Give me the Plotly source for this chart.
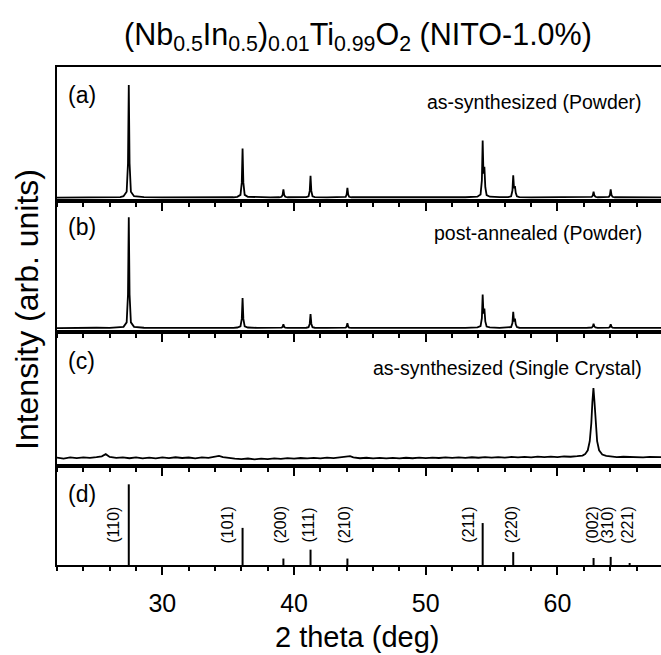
import plotly.graph_objects as go
from plotly.subplots import make_subplots

FONT = "Liberation Sans, Arial, sans-serif"

# ---- Powder patterns (a) as-synthesized and (b) post-annealed, shared 2-theta grid ----
two_theta_powder = [
    22.0, 23.0, 24.0, 25.0, 26.0, 26.8,
    27.05, 27.29, 27.39, 27.45, 27.51, 27.61, 27.85,
    28.6, 30.0, 31.5, 33.0, 34.5, 35.4,
    35.69, 35.93, 36.03, 36.09, 36.15, 36.25, 36.49,
    37.2, 38.2,
    38.87, 39.05, 39.13, 39.19, 39.25, 39.33, 39.51,
    40.2,
    40.93, 41.10, 41.19, 41.25, 41.31, 41.40, 41.57,
    42.5, 43.4,
    43.75, 43.92, 43.99, 44.05, 44.11, 44.18, 44.35,
    45.5, 47.0, 48.5, 50.0, 51.5, 53.0,
    53.92, 54.16, 54.26, 54.32, 54.38, 54.45, 54.52, 54.62, 54.86,
    55.6,
    56.26, 56.48, 56.58, 56.64, 56.70, 56.77, 56.83, 56.92, 57.10,
    58.0, 59.5, 61.0, 62.2,
    62.45, 62.60, 62.68, 62.74, 62.80, 62.88, 63.05,
    63.5,
    63.75, 63.90, 63.98, 64.04, 64.10, 64.18, 64.35,
    65.0, 66.0, 67.0, 67.86,
]

counts_a = [
    0.8, 1.0, 0.9, 1.1, 1.0, 1.3,
    2.0, 6.0, 31, 100, 31, 6.0, 2.0,
    1.2, 1.0, 0.9, 1.0, 1.0, 1.1,
    1.5, 3.2, 14, 44, 14, 3.2, 1.5,
    1.1, 1.0,
    1.1, 1.5, 3.1, 8.0, 3.1, 1.5, 1.1,
    1.0,
    1.2, 2.0, 6.7, 20, 6.7, 2.0, 1.2,
    1.0, 1.0,
    1.1, 1.5, 3.5, 9.5, 3.5, 1.5, 1.1,
    1.0, 0.9, 1.0, 1.0, 1.1, 1.1,
    1.6, 3.6, 16, 51, 22, 28, 10, 3.0, 1.6,
    1.2,
    1.2, 2.0, 7.0, 20.5, 9.0, 11, 5.0, 2.0, 1.2,
    1.0, 1.0, 1.0, 1.1,
    1.1, 1.5, 2.5, 6.0, 2.8, 1.5, 1.1,
    1.0,
    1.1, 1.5, 3.0, 8.0, 3.2, 1.5, 1.1,
    1.0, 0.9, 1.0, 1.0,
]

counts_b = [
    1.0, 1.3, 1.1, 1.4, 1.2, 1.5,
    2.2, 6.2, 31, 100, 31, 6.2, 2.2,
    1.4, 1.2, 1.1, 1.3, 1.2, 1.3,
    1.6, 2.6, 9.3, 28, 9.3, 2.6, 1.6,
    1.3, 1.2,
    1.3, 1.5, 2.2, 4.4, 2.2, 1.5, 1.3,
    1.2,
    1.4, 1.9, 5.0, 13.7, 5.0, 1.9, 1.4,
    1.2, 1.2,
    1.3, 1.5, 2.5, 5.4, 2.5, 1.5, 1.3,
    1.2, 1.1, 1.2, 1.2, 1.3, 1.3,
    1.7, 2.8, 10, 31, 14, 18.5, 7.0, 2.5, 1.7,
    1.3,
    1.4, 2.0, 5.5, 15.5, 7.0, 9.5, 4.5, 2.0, 1.4,
    1.2, 1.2, 1.2, 1.3,
    1.3, 1.6, 2.4, 5.0, 2.6, 1.6, 1.3,
    1.2,
    1.3, 1.5, 2.2, 4.4, 2.3, 1.5, 1.3,
    1.2, 1.1, 1.2, 1.2,
]

# ---- (c) as-synthesized single crystal ----
two_theta_c = [
    22.0, 22.5, 23.0, 23.5, 24.0, 24.5, 25.0, 25.4, 25.7, 26.0, 26.5, 27.0,
    27.5, 28.0, 28.5, 29.0, 29.5, 30.0, 30.5, 31.0, 31.5, 32.0, 32.5, 33.0,
    33.5, 34.0, 34.3, 34.6, 35.0, 35.5, 36.0, 36.5, 37.0, 37.5, 38.0, 38.5,
    39.0, 39.5, 40.0, 40.5, 41.0, 41.5, 42.0, 42.5, 43.0, 43.5, 44.0, 44.25,
    44.5, 45.0, 45.5, 46.0, 46.5, 47.0, 47.5, 48.0, 48.5, 49.0, 49.5, 50.0,
    50.5, 51.0, 51.5, 52.0, 52.5, 53.0, 53.5, 54.0, 54.5, 55.0, 55.5, 56.0,
    56.5, 57.0, 57.5, 58.0, 58.5, 59.0, 59.5, 60.0, 60.5, 61.0, 61.5, 61.9,
    62.1, 62.3, 62.45, 62.57, 62.65, 62.73, 62.81, 62.89, 63.01, 63.16, 63.4,
    63.7, 64.0, 64.5, 65.0, 65.5, 66.0, 66.5, 67.0, 67.5, 67.86,
]

counts_c = [
    0.5, -0.8, 0.9, -0.2, 1.0, 0.1, 1.2, 2.5, 5.5, 1.6, 0.2, 1.0,
    -0.3, 0.8, -0.6, 0.6, -0.4, 0.9, -0.2, 1.1, 0.0, 0.7, -0.5, 0.8,
    0.2, 1.5, 3.0, 1.2, 0.0, -0.9, -1.5, -0.7, -1.8, -0.9, -1.6, -0.6,
    -1.2, -0.3, -0.9, 0.0, -0.6, 0.3, -0.4, 0.5, -0.2, 0.6, 1.4, 2.8,
    0.9, -0.3, 0.4, -0.5, 0.3, -0.6, 0.2, -0.4, 0.4, -0.3, 0.5, -0.2,
    0.6, 0.0, 0.8, 0.2, 1.0, 0.3, 1.1, 0.4, 1.2, 0.5, 1.3, 0.6,
    1.5, 0.8, 1.6, 1.0, 1.9, 1.2, 2.0, 1.4, 2.2, 1.8, 2.6, 3.5,
    5.5, 11, 24, 50, 80, 100, 80, 50, 24, 11, 5.0,
    3.0, 2.0, 1.4, 1.8, 1.2, 1.6, 1.0, 1.5, 1.1, 1.3,
]

# ---- (d) rutile TiO2 reference reflections ----
ref_hkl = ["(110)", "(101)", "(200)", "(111)", "(210)", "(211)", "(220)", "(002)", "(310)", "(221)"]
ref_two_theta = [27.45, 36.09, 39.19, 41.25, 44.05, 54.32, 56.64, 62.74, 64.04, 65.48]
ref_intensity = [100, 46, 8, 19, 8, 52, 16, 8.7, 10, 2.5]

assert len(two_theta_powder) == len(counts_a) == len(counts_b)
assert len(two_theta_c) == len(counts_c)

# label offsets (px) so the tall sticks do not run through their labels
ref_label_shift = [-15, -15, -2, -2, -2, -14, -1, -1, -3, -2]

fig = make_subplots(rows=4, cols=1, shared_xaxes=True, vertical_spacing=0)

line_style = dict(color="black", width=1.8)
fig.add_trace(go.Scatter(x=two_theta_powder, y=counts_a, mode="lines", line=line_style), row=1, col=1)
fig.add_trace(go.Scatter(x=two_theta_powder, y=counts_b, mode="lines", line=line_style), row=2, col=1)
fig.add_trace(go.Scatter(x=two_theta_c, y=counts_c, mode="lines", line=line_style), row=3, col=1)

stick_x, stick_y = [], []
for pos, inten in zip(ref_two_theta, ref_intensity):
    stick_x += [pos, pos, None]
    stick_y += [0, inten, None]
fig.add_trace(go.Scatter(x=stick_x, y=stick_y, mode="lines",
                         line=dict(color="black", width=2)), row=4, col=1)

# panel layout (paper fractions)
domains = [[0.7309, 1.0], [0.4679, 0.7309], [0.1988, 0.4679], [0.0, 0.1988]]
yranges = [[-2.2, 115.9], [-2.4, 114.5], [-11.4, 180.0], [0.0, 122.7]]

for i in range(4):
    fig.update_yaxes(domain=domains[i], range=yranges[i], showline=True, linewidth=2,
                     linecolor="black", showticklabels=False, ticks="", showgrid=False,
                     zeroline=False, row=i + 1, col=1)
    fig.update_xaxes(range=[22, 67.86], showline=True, linewidth=2, linecolor="black",
                     mirror=True, ticks="outside", tickwidth=2, ticklen=8, tickcolor="black",
                     tick0=0, dtick=10,
                     minor=dict(tick0=0, dtick=2, ticks="outside", ticklen=4,
                                tickwidth=1.5, tickcolor="black"),
                     showgrid=False, zeroline=False, showticklabels=(i == 3),
                     ticklabelstandoff=7,
                     tickfont=dict(family=FONT, size=25, color="black"),
                     row=i + 1, col=1)

annotations = []

def py(px):
    return (565 - px) / 498

def px_x(px):
    return (px - 57) / 604

# panel tags
for tag, ypx in zip(["(a)", "(b)", "(c)", "(d)"], [95, 227, 361, 494]):
    annotations.append(dict(text=tag, xref="paper", yref="paper", x=px_x(66), y=py(ypx),
                            xanchor="left", yanchor="middle", showarrow=False,
                            font=dict(family=FONT, size=23, color="black")))

# sample descriptions
for txt, ypx in zip(["as-synthesized (Powder)", "post-annealed (Powder)",
                     "as-synthesized (Single Crystal)"], [102, 233, 368]):
    annotations.append(dict(text=txt, xref="paper", yref="paper", x=px_x(644), y=py(ypx),
                            xanchor="right", yanchor="middle", showarrow=False,
                            font=dict(family=FONT, size=19.5, color="black")))

# hkl labels
for hkl, pos, shift in zip(ref_hkl, ref_two_theta, ref_label_shift):
    annotations.append(dict(text=hkl, xref="x4", yref="y4", x=pos, y=49.6, xshift=shift,
                            textangle=-90, xanchor="center", yanchor="middle",
                            showarrow=False, font=dict(family=FONT, size=16, color="black")))

# axis titles
annotations.append(dict(text="Intensity (arb. units)", xref="paper", yref="paper",
                        x=px_x(27), y=py(310), textangle=-90, xanchor="center", yanchor="middle",
                        showarrow=False, font=dict(family=FONT, size=32, color="black")))
annotations.append(dict(text="2 theta (deg)", xref="paper", yref="paper",
                        x=px_x(357), y=py(637), xanchor="center", yanchor="middle",
                        showarrow=False, font=dict(family=FONT, size=29, color="black")))

# chart title
annotations.append(dict(
    text="(Nb<sub>0.5</sub>In<sub>0.5</sub>)<sub>0.01</sub>Ti<sub>0.99</sub>O<sub>2</sub> (NITO-1.0%)",
    xref="paper", yref="paper", x=px_x(357.5), y=py(37), xanchor="center", yanchor="middle",
    showarrow=False, font=dict(family=FONT, size=30.5, color="black")))

fig.update_layout(
    width=661, height=655,
    margin=dict(l=57, r=0, t=67, b=90),
    plot_bgcolor="white", paper_bgcolor="white",
    showlegend=False,
    annotations=annotations,
)

fig.write_html("out.html")
